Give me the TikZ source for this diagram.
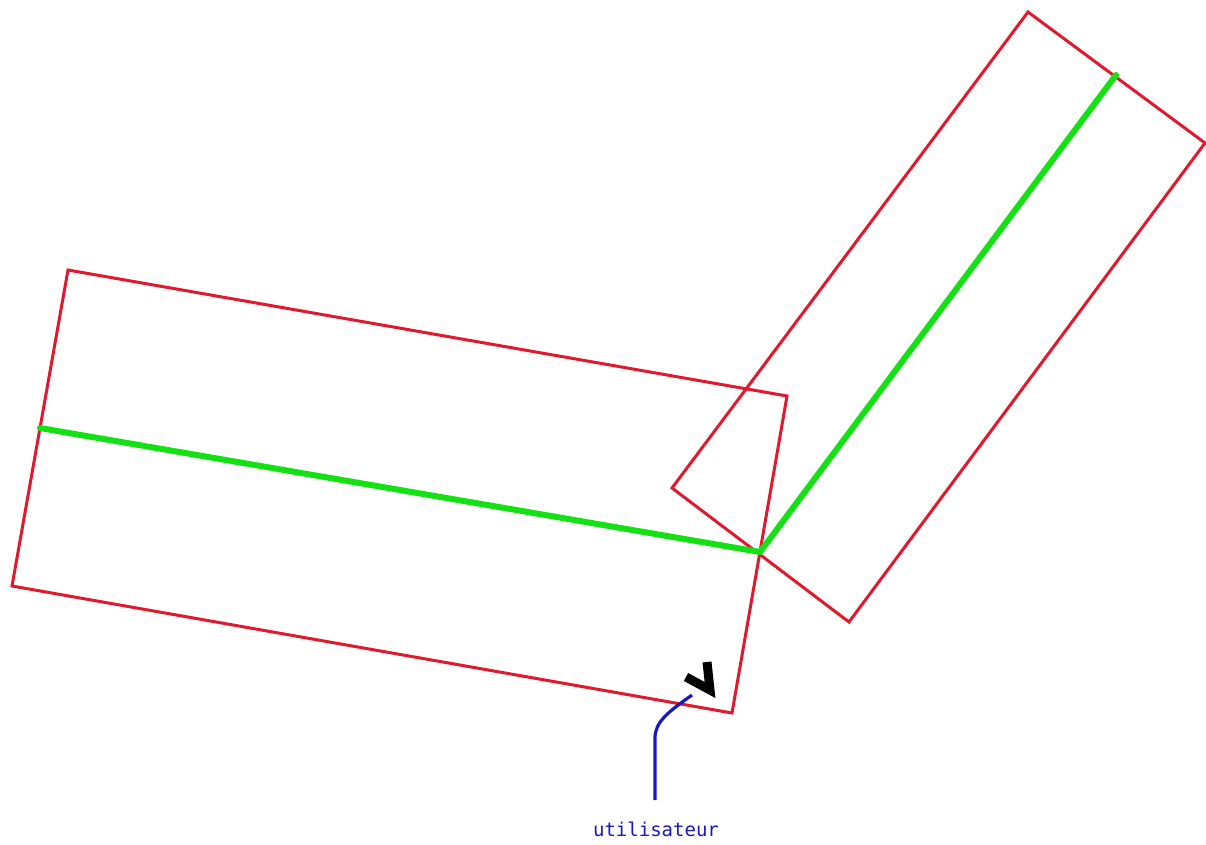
\documentclass[tikz,border=0pt]{standalone}
\usepackage{fontspec}
\newfontfamily\labelfont{DejaVu Sans Mono}
\definecolor{boxred}{RGB}{225,25,45}
\definecolor{axisgreen}{RGB}{20,225,20}
\definecolor{userblue}{RGB}{25,25,190}
\begin{document}
\begin{tikzpicture}[x=1pt,y=-1pt,
  boxline/.style={draw=boxred,line width=3pt,line join=miter},
  axisline/.style={draw=axisgreen,line width=6pt,line cap=round},
  pointer/.style={draw=userblue,line width=3.2pt},
  usermark/.style={draw=black,line width=9pt,line join=miter,line cap=butt}]
\useasboundingbox (0,0) rectangle (1206,845);
% left rectangle
\coordinate (L1) at (68,270);
\coordinate (L2) at (787,396);
\coordinate (L3) at (732,713);
\coordinate (L4) at (12,586);
% right rectangle
\coordinate (R1) at (1028,12);
\coordinate (R2) at (1205,143);
\coordinate (R3) at (849,622);
\coordinate (R4) at (672,488);
% axes
\coordinate (A) at (40,428);
\coordinate (J) at (760,552);
\coordinate (B) at (1116,75);
\draw[boxline] (L1) -- (L2) -- (L3) -- (L4) -- cycle;
\draw[boxline] (R1) -- (R2) -- (R3) -- (R4) -- cycle;
\draw[axisline] (A) -- (J) -- (B);
% user mark
\coordinate (M1) at (686,677);
\coordinate (M2) at (710,690);
\coordinate (M3) at (707,662);
\draw[usermark] (M1) -- (M2) -- (M3);
\node[text=userblue,font=\labelfont\fontsize{19}{22}\selectfont] (user) at (656,829) {utilisateur};
\coordinate (P0) at (692,695);
\coordinate (P1) at (655,738);
\coordinate (P2) at (655,800);
\draw[pointer] (P0) .. controls (668,712) and (655,722) .. (P1) -- (P2);
\end{tikzpicture}
\end{document}
